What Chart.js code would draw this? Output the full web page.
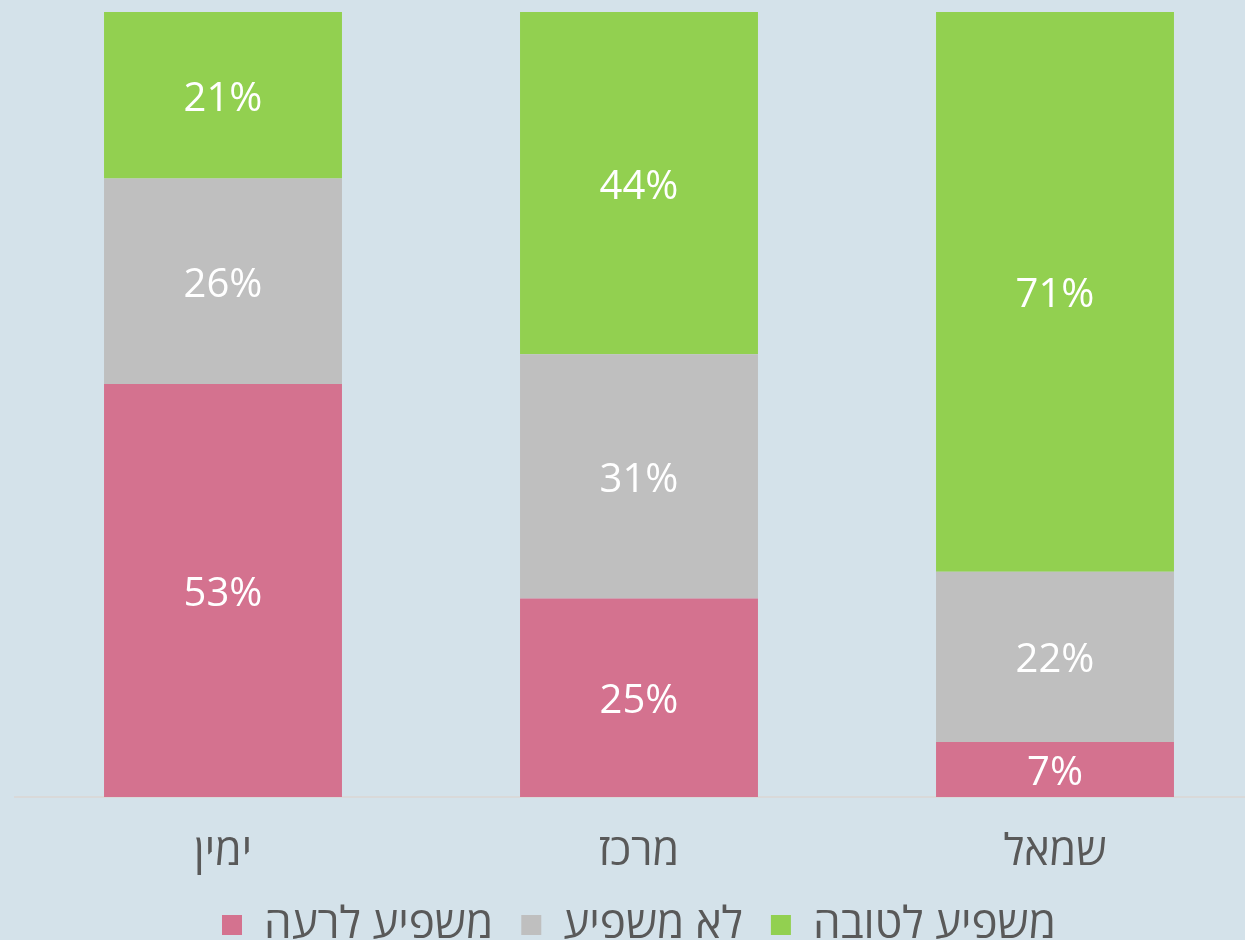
<!DOCTYPE html>
<html>
<head>
<meta charset="utf-8">
<script src="https://cdn.jsdelivr.net/npm/chart.js@4/dist/chart.umd.min.js"></script>
<style>
  html, body { margin: 0; padding: 0; background: #d4e2ea; overflow: hidden; }
  #wrap { width: 1280px; height: 957px; }
</style>
</head>
<body>
<div id="wrap"><canvas id="myChart" width="1280" height="957"></canvas></div>
<script>
// data
var categories = ["ימין", "מרכז", "שמאל"];
var bad = [52.6, 25.3, 7.0];
var none = [26.2, 31.1, 21.7];
var good = [21.2, 43.6, 71.3];
var seriesNames = ["משפיע לרעה", "לא משפיע", "משפיע לטובה"];

var FONT = '"Open Sans", sans-serif';

// white % labels in the middle of each segment
var barLabels = {
  id: 'barLabels',
  afterDatasetsDraw: function(chart) {
    var ctx = chart.ctx;
    ctx.save();
    ctx.fillStyle = '#ffffff';
    ctx.font = '40px ' + FONT;
    ctx.textAlign = 'center';
    ctx.textBaseline = 'middle';
    chart.data.datasets.forEach(function(ds, i) {
      var meta = chart.getDatasetMeta(i);
      meta.data.forEach(function(bar, j) {
        var p = bar.getProps(['x', 'y', 'base'], true);
        ctx.fillText(Math.round(ds.data[j]) + '%', p.x, (p.y + p.base) / 2 + 4);
      });
    });
    ctx.restore();
  }
};

var ctx = document.getElementById('myChart').getContext('2d');
var chart = new Chart(ctx, {
  type: 'bar',
  data: {
    labels: categories,
    datasets: [
      { label: seriesNames[0], data: bad, backgroundColor: '#d4728f' },
      { label: seriesNames[1], data: none, backgroundColor: '#bfbfbf' },
      { label: seriesNames[2], data: good, backgroundColor: '#92d050' }
    ]
  },
  options: {
    responsive: false,
    animation: false,
    layout: { padding: { top: 12, left: 15, right: 17, bottom: 0 } },
    datasets: {
      bar: { barPercentage: 0.572, categoryPercentage: 1 }
    },
    scales: {
      x: {
        stacked: true,
        grid: { display: false },
        border: { display: true, color: '#d9d9d9', width: 2 },
        ticks: { color: '#595959', font: { family: FONT, size: 43 }, padding: 22 },
        afterFit: function(scale) { scale.height = 78; }
      },
      y: {
        stacked: true,
        display: false,
        min: 0,
        max: 100
      }
    },
    plugins: {
      tooltip: { enabled: false },
      legend: {
        position: 'bottom',
        labels: {
          color: '#595959',
          font: { family: FONT, size: 44 },
          boxWidth: 20,
          boxHeight: 20,
          padding: 28
        }
      }
    }
  },
  plugins: [barLabels]
});
</script>
</body>
</html>
